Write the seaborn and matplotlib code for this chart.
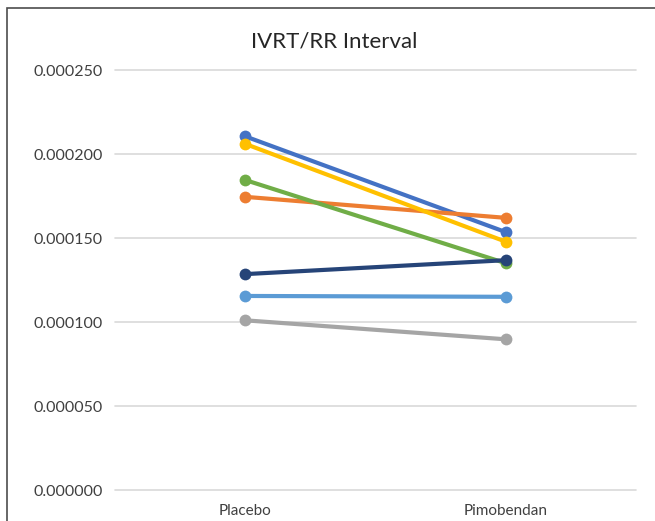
import pandas as pd
import seaborn as sns
import matplotlib.pyplot as plt
from matplotlib.patches import Rectangle
from matplotlib.ticker import FormatStrFormatter

# === Data ===
treatments = ["Placebo", "Pimobendan"]
subjects = ["S1", "S2", "S3", "S4", "S5", "S6", "S7"]
placebo = [0.0002105, 0.0001745, 0.0001010, 0.0002060, 0.0001155, 0.0001845, 0.0001285]
pimobendan = [0.0001535, 0.0001620, 0.0000897, 0.0001478, 0.0001150, 0.0001350, 0.0001368]
colors = ["#4472C4", "#ED7D31", "#A5A5A5", "#FFC000", "#5B9BD5", "#70AD47", "#264478"]

df = pd.DataFrame({
    "subject": subjects * 2,
    "treatment": [treatments[0]] * len(subjects) + [treatments[1]] * len(subjects),
    "value": placebo + pimobendan,
})

# === Plot ===
sns.set_style("white")
plt.rcParams["font.family"] = ["Lato", "DejaVu Sans"]

fig = plt.figure(figsize=(6.55, 5.21), dpi=100)
ax = fig.add_axes([115 / 655, 1 - 490 / 521, (636 - 115) / 655, (490 - 70) / 521])

sns.lineplot(
    data=df, x="treatment", y="value", hue="subject",
    hue_order=subjects, palette=colors,
    marker="o", markersize=8.5, markeredgewidth=0,
    linewidth=3, legend=False, ax=ax,
)

ax.set_xlim(-0.5, 1.5)
ax.set_ylim(0, 0.00025)
ax.set_yticks([0, 0.00005, 0.0001, 0.00015, 0.0002, 0.00025])
ax.yaxis.set_major_formatter(FormatStrFormatter("%.6f"))
ax.grid(axis="y", color="#D9D9D9", linewidth=1.2)
ax.set_axisbelow(True)
for gl in ax.get_ygridlines():
    gl.set_clip_on(False)
for s in ax.spines.values():
    s.set_visible(False)
ax.tick_params(axis="both", length=0, labelsize=11.5, colors="#404040")
ax.tick_params(axis="y", pad=9)
ax.tick_params(axis="x", pad=10, labelsize=11)
ax.set_xlabel("")
ax.set_ylabel("")

fig.text(334 / 655, 1 - 42 / 521, "IVRT/RR Interval", ha="center", va="center",
         fontsize=16, color="#262626")

# chart frame (left and top edges visible)
fig.add_artist(Rectangle((7 / 655, -0.1), 1.2, 1 - 8 / 521 + 0.1,
                         transform=fig.transFigure, fill=False,
                         edgecolor="#4d4d4d", linewidth=1.2))

plt.savefig("out.png", dpi=100)
